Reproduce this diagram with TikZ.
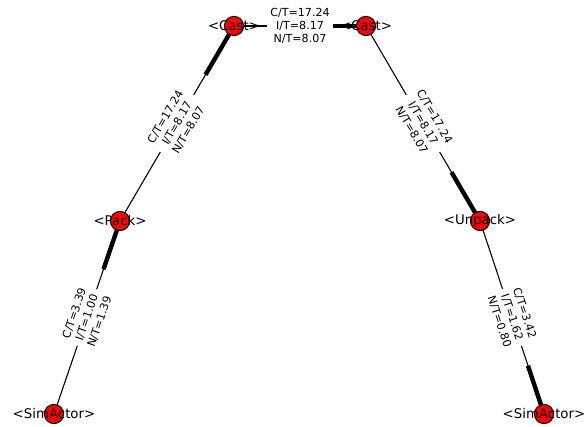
\documentclass[tikz,border=0pt]{standalone}
\usepackage{fontspec}
\setmainfont{DejaVu Sans}
\usetikzlibrary{calc}
\pgfdeclarelayer{background}
\pgfsetlayers{background,main}
\begin{document}
\begin{tikzpicture}[x=1pt,y=1pt,
  vert/.style={circle,fill=red,draw=black,line width=1pt,minimum size=19.2pt,inner sep=0pt},
  vlabel/.style={font=\fontsize{13.33}{16}\selectfont,text=black,inner sep=0pt},
  edge/.style={draw=black,line width=1.1pt},
  head/.style={draw=black,line width=4.4pt},
  elabel/.style={midway,sloped,fill=white,rounded corners=3pt,align=center,
    font=\fontsize{11.1}{13.3}\selectfont,inner sep=3.3pt}]
\useasboundingbox (0,0) rectangle (586,427);
% nodes
\node[vert] (c1) at (234,401) {};
\node[vert] (c2) at (366,401) {};
\node[vert] (p)  at (120,206) {};
\node[vert] (u)  at (480,206) {};
\node[vert] (s1) at (54,13) {};
\node[vert] (s2) at (544,13) {};
\node[vlabel] at (c1) {<Cast>};
\node[vlabel] at (c2) {<Cast>};
\node[vlabel] at (p) {<Pack>};
\node[vlabel] at (u) {<Unpack>};
\node[vlabel] at (s1) {<SimActor>};
\node[vlabel] at (s2) {<SimActor>};
\begin{pgfonlayer}{background}
% heads (last quarter, thick)
\draw[head] ($(c1.center)!0.75!(c2.center)$) -- (c2.center);
\draw[head] ($(p.center)!0.75!(c1.center)$) -- (c1.center);
\draw[head] ($(s1.center)!0.75!(p.center)$) -- (p.center);
\draw[head] ($(c2.center)!0.75!(u.center)$) -- (u.center);
\draw[head] ($(u.center)!0.75!(s2.center)$) -- (s2.center);
% edges with labels
\path[edge] (c1.center) -- node[elabel] {C/T=17.24\\I/T=8.17\\N/T=8.07} (c2.center);
\path[edge] (p.center) -- node[elabel] {C/T=17.24\\I/T=8.17\\N/T=8.07} (c1.center);
\path[edge] (s1.center) -- node[elabel] {C/T=3.39\\I/T=1.00\\N/T=1.39} (p.center);
\path[edge] (c2.center) -- node[elabel] {C/T=17.24\\I/T=8.17\\N/T=8.07} (u.center);
\path[edge] (u.center) -- node[elabel] {C/T=3.42\\I/T=1.62\\N/T=0.80} (s2.center);
\end{pgfonlayer}
\end{tikzpicture}
\end{document}
